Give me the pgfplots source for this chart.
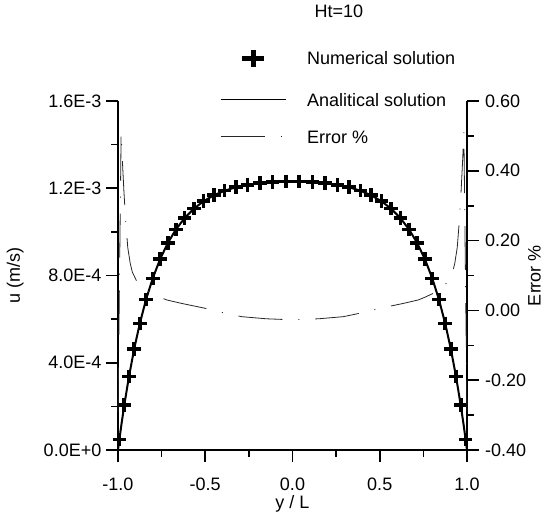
\documentclass[border=0pt]{standalone}
\usepackage{fontspec}
\setmainfont{Liberation Sans}
\usepackage{pgfplots}
\pgfplotsset{compat=1.18}
\usepackage{pgfplotstable}

\pgfplotstableread{
x u
-0.992 0.0490e-3
-0.964 0.2057e-3
-0.937 0.3374e-3
-0.907 0.4643e-3
-0.875 0.5803e-3
-0.839 0.6904e-3
-0.801 0.7870e-3
-0.759 0.8744e-3
-0.715 0.9483e-3
-0.668 1.0111e-3
-0.618 1.0635e-3
-0.565 1.1065e-3
-0.509 1.1409e-3
-0.451 1.1677e-3
-0.389 1.1888e-3
-0.325 1.2044e-3
-0.257 1.2161e-3
-0.187 1.2241e-3
-0.114 1.2292e-3
-0.038 1.2317e-3
0.038 1.2317e-3
0.114 1.2292e-3
0.187 1.2241e-3
0.257 1.2161e-3
0.325 1.2044e-3
0.389 1.1888e-3
0.451 1.1677e-3
0.509 1.1409e-3
0.565 1.1065e-3
0.618 1.0635e-3
0.668 1.0111e-3
0.715 0.9483e-3
0.759 0.8744e-3
0.801 0.7870e-3
0.839 0.6904e-3
0.875 0.5803e-3
0.907 0.4643e-3
0.937 0.3374e-3
0.964 0.2057e-3
0.992 0.0490e-3
}\numdata

\pgfplotstableread{
x u
-1.000 0
-0.996 0.0247e-3
-0.992 0.0490e-3
-0.980 0.1188e-3
-0.964 0.2057e-3
-0.937 0.3374e-3
-0.907 0.4643e-3
-0.875 0.5803e-3
-0.839 0.6904e-3
-0.801 0.7870e-3
-0.759 0.8744e-3
-0.715 0.9483e-3
-0.668 1.0111e-3
-0.618 1.0635e-3
-0.565 1.1065e-3
-0.509 1.1409e-3
-0.451 1.1677e-3
-0.389 1.1888e-3
-0.325 1.2044e-3
-0.257 1.2161e-3
-0.187 1.2241e-3
-0.114 1.2292e-3
-0.038 1.2317e-3
0.000 1.2320e-3
0.038 1.2317e-3
0.114 1.2292e-3
0.187 1.2241e-3
0.257 1.2161e-3
0.325 1.2044e-3
0.389 1.1888e-3
0.451 1.1677e-3
0.509 1.1409e-3
0.565 1.1065e-3
0.618 1.0635e-3
0.668 1.0111e-3
0.715 0.9483e-3
0.759 0.8744e-3
0.801 0.7870e-3
0.839 0.6904e-3
0.875 0.5803e-3
0.907 0.4643e-3
0.937 0.3374e-3
0.964 0.2057e-3
0.980 0.1188e-3
0.992 0.0490e-3
0.996 0.0247e-3
1.000 0
}\anadata

\pgfplotstableread{
x e
-1.000 -0.290
-0.982 0.510
-0.975 0.430
-0.966 0.340
-0.955 0.250
-0.944 0.180
-0.930 0.135
-0.918 0.110
-0.895 0.086
-0.864 0.068
-0.835 0.057
-0.807 0.049
-0.760 0.038
-0.721 0.030
-0.635 0.020
-0.500 0.006
-0.387 -0.008
-0.291 -0.018
-0.150 -0.024
0.000 -0.027
0.150 -0.024
0.291 -0.018
0.387 -0.008
0.500 0.006
0.635 0.020
0.721 0.030
0.760 0.038
0.807 0.049
0.835 0.057
0.864 0.068
0.895 0.086
0.918 0.110
0.930 0.135
0.944 0.180
0.955 0.250
0.966 0.340
0.975 0.430
0.982 0.510
1.000 -0.290
}\errdata

\pgfplotsset{
  common/.style={
    scale only axis, width=349pt, height=349pt,
    xmin=-1, xmax=1, clip=false,
    tick align=outside,
    major tick length=12pt, minor tick length=6.5pt,
    axis line style={line width=1.6pt, black},
    tick style={line width=1.6pt, black},
    /pgf/number format/assume math mode=true,
  },
}
\tikzset{errstyle/.style={black!85, line width=0.8pt, dash pattern=on 44pt off 16pt on 1pt off 16pt}}

\begin{document}
\fontsize{18}{21.6}\selectfont
\begin{tikzpicture}
\begin{axis}[common,
  axis x line*=bottom, axis y line*=left,
  ymin=0, ymax=1.6e-3, scaled y ticks=false,
  xtick={-1,-0.5,0,0.5,1},
  xticklabels={-1.0,-0.5,0.0,0.5,1.0},
  minor xtick={-0.75,-0.25,0.25,0.75},
  ytick={0,4e-4,8e-4,1.2e-3,1.6e-3},
  yticklabels={0.0E+0,4.0E-4,8.0E-4,1.2E-3,1.6E-3},
  minor ytick={2e-4,6e-4,1e-3,1.4e-3},
  xticklabel style={yshift=-10pt},
  yticklabel style={xshift=1.5pt},
  xlabel={y / L}, ylabel={u (m/s)}, title={Ht=10},
  every axis x label/.style={at={(axis description cs:0.5,0)}, anchor=base, yshift=-58pt},
  every axis y label/.style={at={(axis description cs:-0.281,0.5)}, rotate=90, anchor=base},
  title style={at={(axis description cs:0.633,1.221)}, anchor=base},
]
\addplot[black, line width=2pt] table {\anadata};
\addplot[only marks, mark=+, mark size=6.8pt, line width=3.6pt, black] table {\numdata};
\coordinate (O) at (rel axis cs:0,0);
\end{axis}
\begin{axis}[common,
  axis x line=none, axis y line*=right,
  ymin=-0.4, ymax=0.6,
  ytick={-0.4,-0.2,0,0.2,0.4,0.6},
  yticklabels={-0.40,-0.20,0.00,0.20,0.40,0.60},
  minor ytick={-0.3,-0.1,0.1,0.3,0.5},
  ylabel={Error \%},
  every axis y label/.style={at={(axis description cs:1.211,0.5)}, rotate=90, anchor=base},
  legend cell align=left,
  legend style={at={(axis description cs:0.292,1.1547)}, anchor=north west,
    draw=none, fill=none, inner sep=0pt, outer sep=0pt, row sep=24pt,
    nodes={inner sep=0pt, text height=13pt, text depth=0pt}},
]
\addlegendimage{legend image code/.code={
  \draw[black, line width=5pt] (21.5pt,0pt)--(43.5pt,0pt) (32.5pt,-8.5pt)--(32.5pt,8.5pt);
  \path (86pt,0pt);}}
\addlegendentry{Numerical solution}
\addlegendimage{legend image code/.code={
  \draw[black, line width=1.6pt] (0pt,0pt)--(65pt,0pt);
  \path (86pt,0pt);}}
\addlegendentry{Analitical solution}
\addplot[errstyle,
  legend image code/.code={\draw[errstyle] (0pt,0pt)--(65pt,0pt); \path (86pt,0pt);}]
  table {\errdata};
\addlegendentry{Error \%}
\end{axis}
\pgfresetboundingbox
\path[use as bounding box] (O) ++(-118pt,-62pt) rectangle ++(543pt,512pt);
\end{tikzpicture}
\end{document}
